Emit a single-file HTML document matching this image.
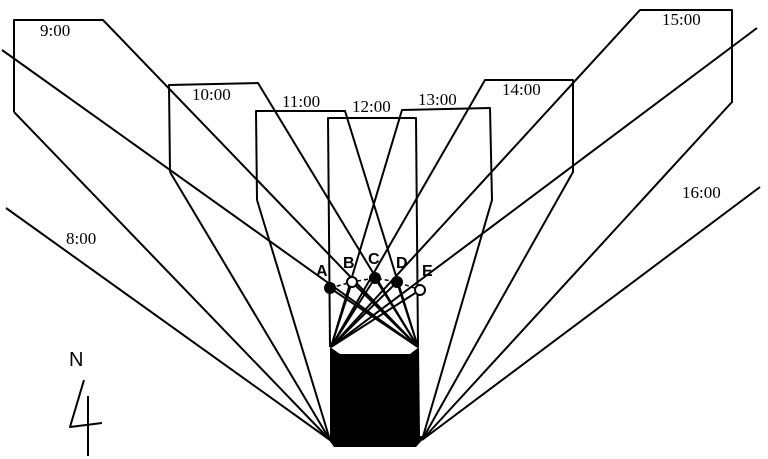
<!DOCTYPE html>
<html><head><style>html,body{margin:0;padding:0;background:#fff}svg{display:block}</style></head>
<body>
<svg width="768" height="459" viewBox="0 0 768 459" xmlns="http://www.w3.org/2000/svg">
<g fill="none" stroke="#000" stroke-width="2" stroke-linejoin="round">
<!-- 9:00 -->
<polyline points="14,112 14,20 103,20 418,347"/>
<line x1="14" y1="112" x2="330" y2="440"/>
<!-- 10:00 -->
<polyline points="170,172 169,85 258,83 418,347"/>
<line x1="170" y1="172" x2="330" y2="440"/>
<!-- 11:00 -->
<polyline points="257,200 256,111 345,111 418,347"/>
<line x1="257" y1="200" x2="330" y2="440"/>
<!-- 12:00 -->
<polyline points="330,347 328,118 416,118 418,347"/>
<!-- 13:00 -->
<polyline points="331,347 402,110 490,108 492,200 422,440"/>
<!-- 14:00 -->
<polyline points="331,347 485,80 573,80 573,172 422,440"/>
<!-- 15:00 -->
<polyline points="331,347 640,10 732,10 732,102 422,440"/>
<!-- 8:00, 16:00 -->
<line x1="6" y1="208" x2="330" y2="440"/>
<line x1="760" y1="187" x2="422" y2="440"/>
<!-- rays through A and E -->
<line x1="2" y1="50" x2="418" y2="347"/>
<line x1="757" y1="28" x2="331" y2="347"/>
<!-- fans -->
<line x1="352" y1="282" x2="418" y2="347"/>
<line x1="375" y1="278" x2="418" y2="347"/>
<line x1="397" y1="282" x2="418" y2="347"/>
<line x1="352" y1="282" x2="331" y2="347"/>
<line x1="375" y1="278" x2="331" y2="347"/>
<line x1="397" y1="282" x2="331" y2="347"/>
<line x1="420" y1="290" x2="331" y2="347"/>
<line x1="330" y1="288" x2="418" y2="347"/>
<!-- dashed connecting line -->
<polyline points="330,288 352,282 375,278 397,282 420,290" stroke-dasharray="4,3" stroke-width="1.5"/>
<!-- north arrow -->
<polyline points="84,380 70,427 102,423"/>
<line x1="88" y1="396" x2="88" y2="456"/>
</g>
<!-- building -->
<polygon points="330,347 340,354 410,354 419,347 420,436 426,436 416,447 334,447 326,436 330,436" fill="#000"/>
<!-- points -->
<g stroke="#000" stroke-width="2">
<circle cx="330" cy="288" r="5" fill="#000"/>
<circle cx="352" cy="282" r="5" fill="#fff"/>
<circle cx="375" cy="278" r="5" fill="#000"/>
<circle cx="397" cy="282" r="5" fill="#000"/>
<circle cx="420" cy="290" r="5" fill="#fff"/>
</g>
<g font-family="Liberation Serif, serif" font-size="17" fill="#000">
<text x="40" y="36">9:00</text>
<text x="192" y="100">10:00</text>
<text x="282" y="107">11:00</text>
<text x="352" y="112">12:00</text>
<text x="418" y="105">13:00</text>
<text x="502" y="95">14:00</text>
<text x="662" y="25">15:00</text>
<text x="682" y="198">16:00</text>
<text x="66" y="244">8:00</text>
<g font-family="Liberation Sans, sans-serif" font-size="16" font-weight="bold">
<text x="316" y="276">A</text>
<text x="343" y="268">B</text>
<text x="368" y="264">C</text>
<text x="396" y="268">D</text>
<text x="422" y="276">E</text>
</g>
<text x="69" y="366" font-family="Liberation Sans, sans-serif" font-size="20">N</text>
</g>
</svg>
</body></html>
